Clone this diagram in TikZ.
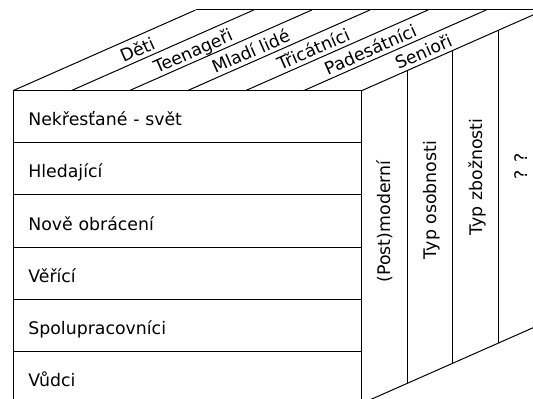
\documentclass[tikz,border=0pt]{standalone}
\usepackage{fontspec}
\setmainfont{DejaVu Sans}
\usetikzlibrary{positioning,calc}

\begin{document}
\begin{tikzpicture}[
    x=0.75pt,
    y=-0.75pt,
    node distance=0pt,
    line width=0.75pt,
    font=\fontsize{13}{15}\selectfont,
    group/.style={
		rectangle,
		draw=black,
		outer sep=0pt,
		minimum width=261.5pt,
		minimum height=39.1pt,
		text width=238.5pt,
		inner xsep=11.5pt,
		text height=13.5pt,
		text depth=0pt,
		align=left
	},
	age/.style={
		rotate=23.85,
		anchor=base,
		inner sep=0pt
	},
	aspect/.style={
		rotate=90
	}
  ]
  \path [use as bounding box, clip] (0,0) rectangle (533,399);

    % We start by placing the front blocks
  \node [group, anchor=north west] (svet) at (13,90.7) {Nekřesťané - svět};
  \node [group, below=of svet] (hledajici) {Hledající};
  \node [group, below=of hledajici] (obraceni) {Nově obrácení};
  \node [group, below=of obraceni] (verici) {Věřící};
  \node [group, below=of verici] (spolu) {Spolupracovníci};
  \node [group, below=of spolu] (vudci) {Vůdci};

    % top face
  \foreach \i in {0,...,6}
    \draw ($(svet.north west)!\i/6!(svet.north east)$) -- ++(182.6,-80.7);
  \draw ($(svet.north west)+(182.6,-80.7)$) -- ++(400,0);

    % right face
  \draw (vudci.south east) -- ++(182.6,-80.7);
  \foreach \k in {1,2,3}
    \draw ($(svet.north east)+\k*(45.65,-20.175)$) -- ($(vudci.south east)+\k*(45.65,-20.175)$);

  \node [age] (deti) at (140,55.8) {Děti};
  \node [age] (teen) at (195.6,56.9) {Teenageři};
  \node [age] (mladi) at (253.3,57.2) {Mladí lidé};
  \node [age] (tricatnici) at (315.9,55.2) {Třicátníci};
  \node [age] (padesatnici) at (373,55.6) {Padesátníci};
  \node [age] (seniori) at (426.1,57.8) {Senioři};

  \node [aspect] (postmoderni) at (385,221.5) {(Post)moderní};
  \node [aspect] (osobnost) at (431.5,200) {Typ osobnosti};
  \node [aspect] (zboznost) at (477,177) {Typ zbožnosti};
  \node [aspect] (otazky) at (521,166.5) {? ?};

\end{tikzpicture}
\end{document}
